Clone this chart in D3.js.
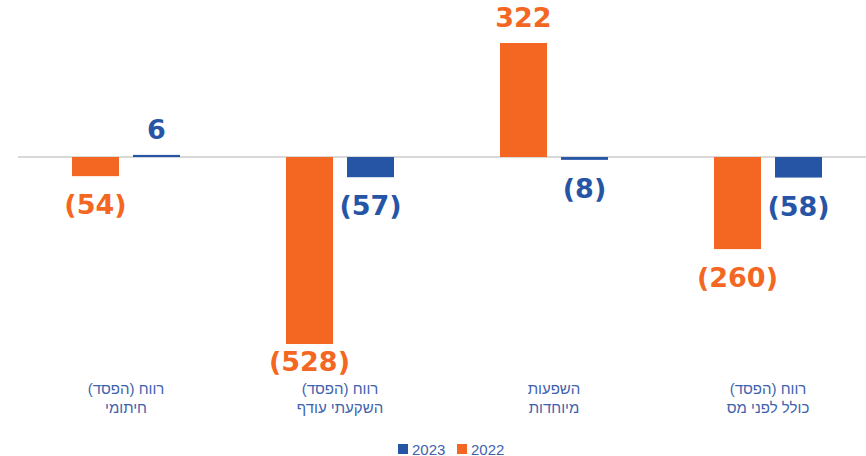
<!DOCTYPE html>
<html>
<head>
<meta charset="utf-8">
<script src="https://cdn.jsdelivr.net/npm/d3@7"></script>
<style>
  body { margin: 0; background: #fff; }
  svg { display: block; }
</style>
</head>
<body>
<script>
// categories, left to right as in the picture
const categories = [
  ["רווח (הפסד)", "חיתומי"],
  ["רווח (הפסד)", "השקעתי עודף"],
  ["השפעות", "מיוחדות"],
  ["רווח (הפסד)", "כולל לפני מס"]
];
const years = ["2022", "2023"];
const values2022 = [-54, -528, 322, -260];
const values2023 = [6, -57, -8, -58];
const legendOrder = ["2023", "2022"];

const w = 866;
const h = 456;
const orange = "#f46722";
const blue = "#2755a5";
const colors = { "2022": orange, "2023": blue };

const rows = categories.map((c, i) => ({
  key: c.join(" "),
  lines: c,
  vals: [{ year: "2022", v: values2022[i] }, { year: "2023", v: values2023[i] }]
}));

const x0 = d3.scaleBand()
  .domain(rows.map(d => d.key))
  .range([19, 875]);

const x1 = d3.scaleBand()
  .domain(years)
  .range([53, 161])
  .paddingInner(0.23);

const y = d3.scaleLinear()
  .domain([-528, 322])
  .range([344, 43]);

const svg = d3.select("body")
  .append("svg")
  .attr("width", w)
  .attr("height", h);

// zero line
svg.append("line")
  .attr("x1", 18).attr("x2", 866)
  .attr("y1", y(0)).attr("y2", y(0))
  .attr("stroke", "#d9d9d9")
  .attr("stroke-width", 2);

const groups = svg.selectAll("g.grp")
  .data(rows)
  .enter()
  .append("g")
  .attr("class", "grp")
  .attr("transform", d => `translate(${x0(d.key)},0)`);

groups.selectAll("rect")
  .data(d => d.vals)
  .enter()
  .append("rect")
  .attr("x", d => x1(d.year))
  .attr("width", x1.bandwidth())
  .attr("y", d => Math.min(y(d.v), y(0)))
  .attr("height", d => Math.max(Math.abs(y(d.v) - y(0)), 2))
  .attr("fill", d => colors[d.year]);

const fmt = v => v < 0 ? `(${Math.abs(v)})` : `${v}`;

groups.selectAll("text.val")
  .data(d => d.vals)
  .enter()
  .append("text")
  .attr("class", "val")
  .attr("x", d => x1(d.year) + x1.bandwidth() / 2)
  .attr("y", d => d.v >= 0 ? y(d.v) - 16 : Math.min(y(d.v) + 38, 371))
  .attr("text-anchor", "middle")
  .attr("font-family", "'DejaVu Sans', sans-serif")
  .attr("font-weight", "bold")
  .attr("font-size", 27)
  .attr("fill", d => colors[d.year])
  .text(d => fmt(d.v));

// category labels
const lbl = groups.append("text")
  .attr("text-anchor", "middle")
  .attr("font-family", "'Liberation Sans', Arial, sans-serif")
  .attr("font-size", 15)
  .attr("fill", "#3e62ac")
  .attr("direction", "rtl");

lbl.selectAll("tspan")
  .data(d => d.lines)
  .enter()
  .append("tspan")
  .attr("x", x0.bandwidth() / 2)
  .attr("y", (d, i) => 394 + i * 19)
  .text(d => d);

// legend
const legend = svg.append("g").attr("transform", "translate(398,444)");
const item = legend.selectAll("g")
  .data(legendOrder)
  .enter()
  .append("g")
  .attr("transform", (d, i) => `translate(${i * 59},0)`);

item.append("rect")
  .attr("width", 10).attr("height", 10)
  .attr("fill", d => colors[d]);

item.append("text")
  .attr("x", 14)
  .attr("y", 10.5)
  .attr("font-family", "'Liberation Sans', Arial, sans-serif")
  .attr("font-size", 15)
  .attr("fill", "#3e62ac")
  .text(d => d);
</script>
</body>
</html>
